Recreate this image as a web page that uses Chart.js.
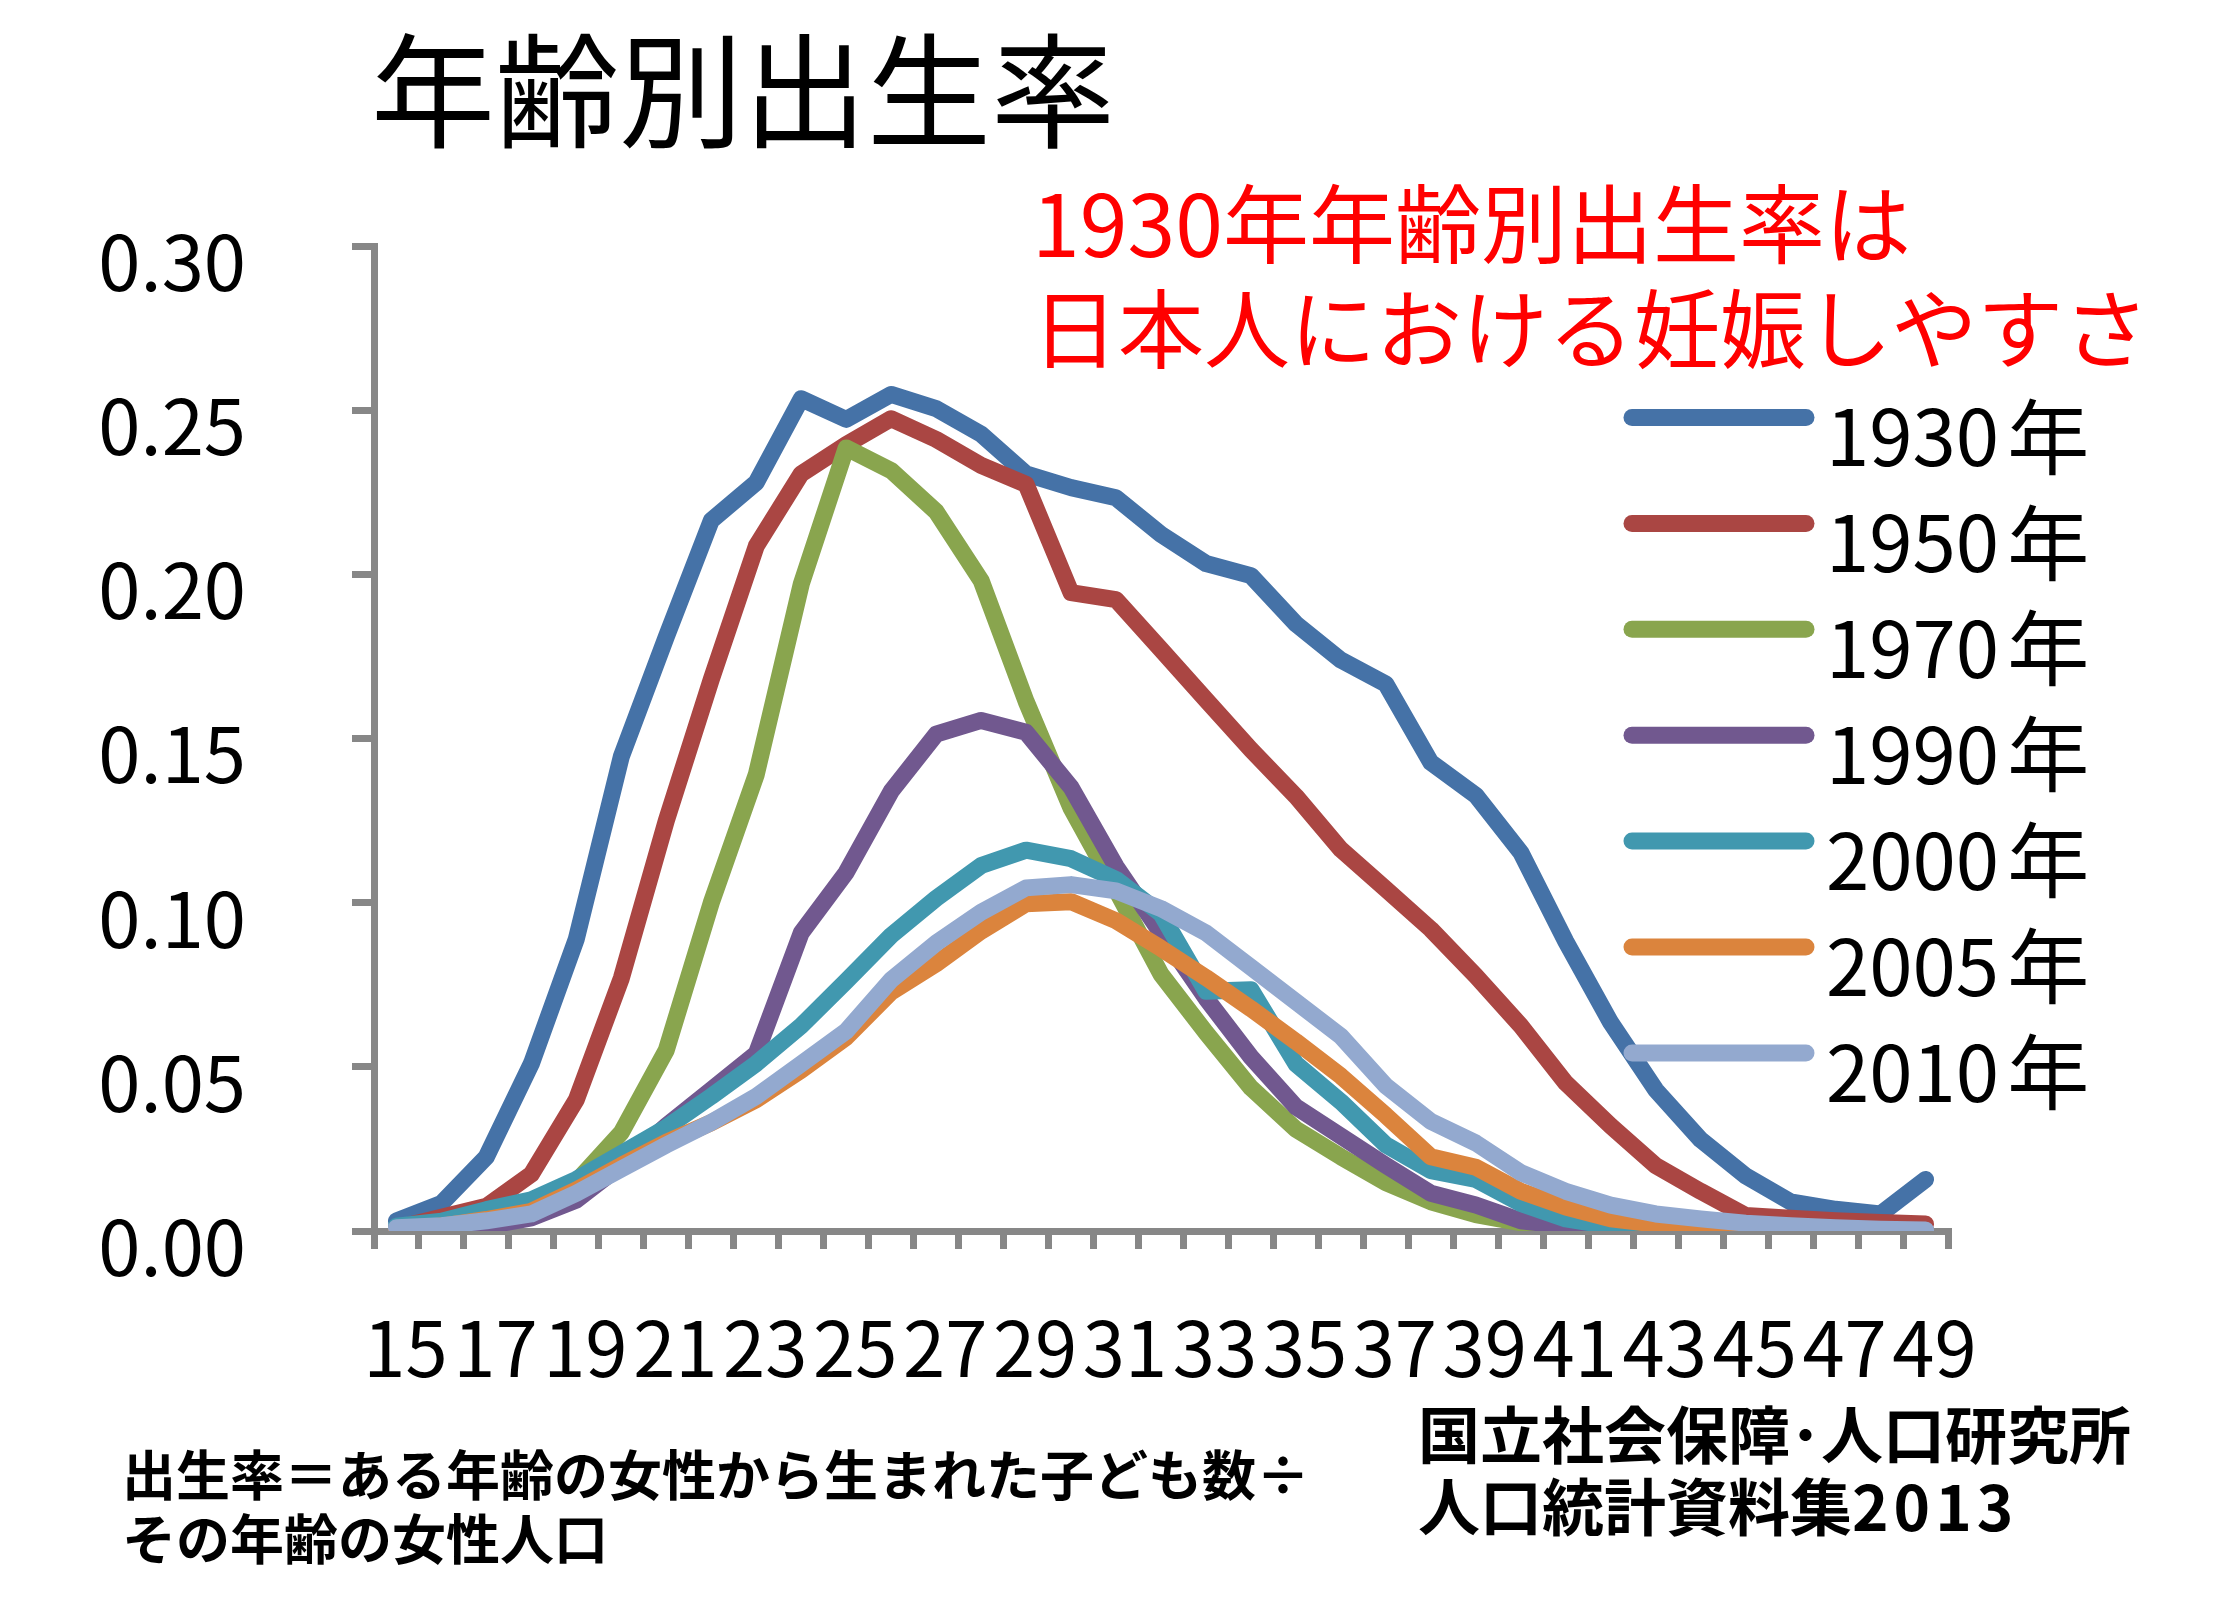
<!DOCTYPE html>
<html lang="ja">
<head>
    <meta charset="UTF-8" />
    <title>年齢別出生率</title>
    <script src="https://cdn.jsdelivr.net/npm/chart.js"></script>
    <style>
        html, body {
            margin: 0;
            padding: 0;
            background: #fff;
        }
        body {
            width: 2224px;
            height: 1606px;
            position: relative;
            overflow: hidden;
            font-family: "Noto Sans CJK JP", sans-serif;
            color: #000;
        }
        #chartBox {
            position: absolute;
            left: 0;
            top: 0;
            width: 2224px;
            height: 1606px;
        }
        .txt {
            position: absolute;
            white-space: nowrap;
            margin: 0;
        }
        #title {
            left: 371px;
            top: 22px;
            font-size: 124px;
            line-height: 124px;
            font-weight: 400;
        }
        #note {
            left: 1032px;
            top: 167px;
            font-size: 86px;
            line-height: 105px;
            color: #ff0000;
        }
        #formula {
            left: 122px;
            top: 1441px;
            font-size: 54px;
            line-height: 64px;
            font-weight: 700;
        }
        #source {
            left: 1418px;
            top: 1396px;
            font-size: 62px;
            line-height: 72px;
            font-weight: 700;
        }
        #source span {
            letter-spacing: 5px;
        }
    </style>
</head>
<body>
    <div id="chartBox"><canvas id="rateChart"></canvas></div>
    <div class="txt" id="title">年齢別出生率</div>
    <div class="txt" id="note">1930年年齢別出生率は<br>日本人における妊娠しやすさ</div>
    <div class="txt" id="formula">出生率＝ある年齢の女性から生まれた子ども数÷<br>その年齢の女性人口</div>
    <div class="txt" id="source">国立社会保障･人口研究所<br>人口統計資料集<span>2013</span></div>

    <script>
        // 年齢 (15〜49歳)
        const ages = [15, 16, 17, 18, 19, 20, 21, 22, 23, 24, 25, 26, 27, 28, 29, 30, 31, 32,
                      33, 34, 35, 36, 37, 38, 39, 40, 41, 42, 43, 44, 45, 46, 47, 48, 49];
        const years = [1930, 1950, 1970, 1990, 2000, 2005, 2010];
        const yTicks = [0, 0.05, 0.10, 0.15, 0.20, 0.25, 0.30];

        const rate1930 = [0.0031, 0.0084, 0.0226, 0.051, 0.089, 0.1445, 0.181, 0.2164, 0.228, 0.2535,
                          0.2472, 0.2548, 0.2505, 0.2427, 0.2306, 0.2264, 0.2233, 0.2122, 0.2033, 0.1996,
                          0.1849, 0.1739, 0.1666, 0.1427, 0.1327, 0.1153, 0.0882, 0.0635, 0.043, 0.0278,
                          0.0168, 0.0089, 0.0066, 0.0052, 0.0157];
        const rate1950 = [0.0008, 0.0042, 0.0075, 0.0173, 0.040, 0.077, 0.125, 0.168, 0.2086, 0.2306,
                          0.2395, 0.2474, 0.2411, 0.2332, 0.2274, 0.1944, 0.1923, 0.1771, 0.1618, 0.1466,
                          0.1324, 0.1162, 0.1041, 0.0919, 0.0777, 0.0625, 0.0451, 0.032, 0.0199, 0.0121,
                          0.0047, 0.0039, 0.0031, 0.0026, 0.0021];
        const rate1970 = [0.0003, 0.001, 0.003, 0.009, 0.015, 0.030, 0.0551, 0.100, 0.139, 0.197,
                          0.2385, 0.2316, 0.2191, 0.1981, 0.1613, 0.1288, 0.1039, 0.0782, 0.0604, 0.0436,
                          0.031, 0.0226, 0.0147, 0.0089, 0.005, 0.0025, 0.0012, 0.0006, 0.0003, 0.0001,
                          0, 0, 0, 0, 0];
        const rate1990 = [0.0002, 0.0005, 0.0015, 0.004, 0.0094, 0.020, 0.032, 0.043, 0.054, 0.0908,
                          0.1092, 0.1339, 0.1513, 0.1555, 0.1519, 0.1351, 0.111, 0.0908, 0.0709, 0.053,
                          0.0378, 0.0289, 0.020, 0.0115, 0.0079, 0.0031, 0.0016, 0.001, 0.0005, 0.0002,
                          0.0001, 0, 0, 0, 0];
        const rate2000 = [0.0015, 0.003, 0.0065, 0.0095, 0.0157, 0.0236, 0.0315, 0.041, 0.051, 0.0625,
                          0.0761, 0.090, 0.1013, 0.1113, 0.116, 0.1134, 0.1071, 0.0966, 0.073, 0.0735,
                          0.0509, 0.0394, 0.0262, 0.0184, 0.0157, 0.0084, 0.0037, 0.0015, 0.0007, 0.0003,
                          0.0001, 0, 0, 0, 0];
        const rate2005 = [0.0005, 0.0015, 0.0035, 0.006, 0.0125, 0.020, 0.027, 0.033, 0.040, 0.049,
                          0.059, 0.0728, 0.0814, 0.0913, 0.0997, 0.1003, 0.0945, 0.0861, 0.0772, 0.0677,
                          0.0577, 0.0472, 0.0352, 0.0226, 0.0194, 0.0121, 0.0073, 0.0037, 0.0021, 0.001,
                          0.0005, 0.0002, 0.0001, 0, 0];
        const rate2010 = [0.001, 0.0016, 0.0031, 0.0052, 0.0115, 0.0189, 0.0262, 0.0331, 0.041, 0.0509,
                          0.0609, 0.0765, 0.0877, 0.0971, 0.1045, 0.1055, 0.1036, 0.0982, 0.0908, 0.0803,
                          0.0698, 0.0593, 0.0442, 0.0334, 0.0268, 0.0178, 0.0121, 0.0079, 0.0052, 0.0037,
                          0.0024, 0.0016, 0.001, 0.0005, 0.0003];

        const series = [rate1930, rate1950, rate1970, rate1990, rate2000, rate2005, rate2010];
        const colors = ['#4572A7', '#AA4643', '#89A54E', '#71588F', '#4198AF', '#DB843D', '#93A9CF'];
        const axisGray = '#878787';
        const fontFamily = '"Noto Sans CJK JP", sans-serif';

        // 凡例 (グラフの右上に重ねて描く)
        const yearKey = {
            id: 'yearKey',
            afterDatasetsDraw(chart) {
                const ctx = chart.ctx;
                ctx.save();
                chart.data.datasets.forEach((ds, i) => {
                    const y = 417.5 + i * 105.9;
                    ctx.strokeStyle = ds.borderColor;
                    ctx.lineWidth = 17;
                    ctx.lineCap = 'round';
                    ctx.beginPath();
                    ctx.moveTo(1632, y);
                    ctx.lineTo(1806, y);
                    ctx.stroke();

                    ctx.fillStyle = '#000';
                    ctx.textBaseline = 'middle';
                    ctx.textAlign = 'left';
                    ctx.font = '78px ' + fontFamily;
                    const num = String(years[i]);
                    ctx.fillText(num, 1826, y + 19);
                    const w = ctx.measureText(num).width;
                    ctx.font = '82px ' + fontFamily;
                    ctx.fillText('年', 1826 + w + 8, y + 19);
                });
                ctx.restore();
            }
        };

        new Chart(document.getElementById('rateChart'), {
            type: 'line',
            data: {
                labels: ages,
                datasets: series.map((values, i) => ({
                    label: years[i] + '年',
                    data: values,
                    borderColor: colors[i],
                    backgroundColor: colors[i],
                    borderWidth: 17,
                    borderJoinStyle: 'round',
                    borderCapStyle: 'round',
                    pointRadius: 0,
                    pointHoverRadius: 0,
                    tension: 0,
                    fill: false,
                    order: series.length - i
                }))
            },
            options: {
                responsive: true,
                maintainAspectRatio: false,
                animation: false,
                devicePixelRatio: 1,
                layout: {
                    padding: { left: 0, top: 246, right: 276, bottom: 0 }
                },
                plugins: {
                    legend: { display: false },
                    tooltip: { enabled: false },
                    title: { display: false }
                },
                scales: {
                    x: {
                        type: 'category',
                        offset: true,
                        afterFit: (scale) => { scale.height = 375; },
                        border: { display: true, color: axisGray, width: 7 },
                        grid: {
                            offset: true,
                            drawOnChartArea: false,
                            drawTicks: true,
                            tickLength: 18,
                            tickWidth: 7,
                            tickColor: axisGray,
                            color: axisGray,
                            lineWidth: 7
                        },
                        ticks: {
                            autoSkip: false,
                            maxRotation: 0,
                            minRotation: 0,
                            padding: 54,
                            labelOffset: 9,
                            color: '#000',
                            font: { family: fontFamily, size: 76 },
                            callback: function (value, index) {
                                return index % 2 === 0 ? String(ages[index]) : '';
                            }
                        }
                    },
                    y: {
                        min: yTicks[0],
                        max: yTicks[yTicks.length - 1],
                        afterFit: (scale) => { scale.width = 374; },
                        afterBuildTicks: (scale) => {
                            scale.ticks = yTicks.map(v => ({ value: v }));
                        },
                        border: { display: true, color: axisGray, width: 7 },
                        grid: {
                            drawOnChartArea: false,
                            drawTicks: true,
                            tickLength: 22,
                            tickWidth: 7,
                            tickColor: axisGray,
                            color: axisGray,
                            lineWidth: 7
                        },
                        ticks: {
                            padding: 106,
                            labelOffset: 16,
                            color: '#000',
                            font: { family: fontFamily, size: 76 },
                            callback: (value) => Number(value).toFixed(2)
                        }
                    }
                }
            },
            plugins: [yearKey]
        });
    </script>
</body>
</html>
